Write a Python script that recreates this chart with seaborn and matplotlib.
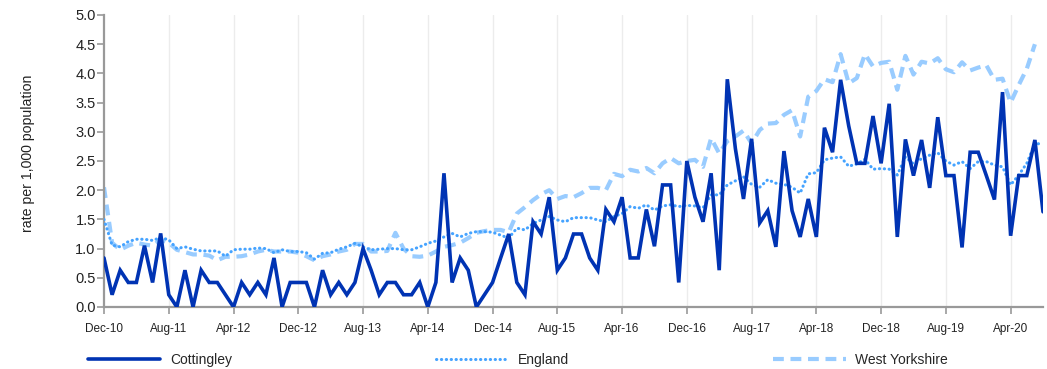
import numpy as np
import pandas as pd
import matplotlib
matplotlib.use("Agg")
import matplotlib.pyplot as plt
import seaborn as sns

# Monthly rates per 1,000 population, Dec-10 to Aug-20
cottingley = [
    0.84, 0.21, 0.63, 0.42, 0.42, 1.05, 0.42, 1.26, 0.21, 0.0,
    0.63, 0.0, 0.63, 0.42, 0.42, 0.21, 0.0, 0.42, 0.21, 0.42,
    0.21, 0.84, 0.0, 0.42, 0.42, 0.42, 0.0, 0.63, 0.21, 0.42,
    0.21, 0.42, 1.0, 0.63, 0.21, 0.42, 0.42, 0.21, 0.21, 0.42,
    0.0, 0.42, 2.29, 0.42, 0.84, 0.63, 0.0, 0.21, 0.42, 0.84,
    1.25, 0.42, 0.21, 1.46, 1.25, 1.88, 0.63, 0.84, 1.25, 1.25,
    0.84, 0.63, 1.67, 1.46, 1.88, 0.84, 0.84, 1.67, 1.04, 2.09,
    2.09, 0.42, 2.5, 1.88, 1.46, 2.29, 0.63, 3.9, 2.71, 1.85,
    2.88, 1.44, 1.65, 1.03, 2.67, 1.65, 1.2, 1.85, 1.2, 3.07,
    2.65, 3.89, 3.1, 2.46, 2.46, 3.27, 2.46, 3.48, 1.2, 2.87,
    2.25, 2.86, 2.04, 3.25, 2.25, 2.25, 1.02, 2.65, 2.65, 2.25,
    1.84, 3.68, 1.22, 2.25, 2.25, 2.86, 1.63,
]

england = [
    1.5, 1.06, 1.03, 1.12, 1.16, 1.16, 1.14, 1.19, 1.15, 1.0,
    1.03, 0.99, 0.96, 0.96, 0.96, 0.87, 0.98, 0.99, 0.99, 1.01,
    1.0, 0.93, 0.98, 0.95, 0.95, 0.93, 0.82, 0.92, 0.93, 0.99,
    1.03, 1.09, 1.03, 0.98, 0.99, 1.0, 1.0, 0.98, 0.98, 1.03,
    1.09, 1.13, 1.2, 1.26, 1.2, 1.26, 1.29, 1.29, 1.28, 1.23,
    1.18, 1.35, 1.32, 1.43, 1.49, 1.55, 1.49, 1.46, 1.53, 1.53,
    1.53, 1.49, 1.46, 1.55, 1.6, 1.72, 1.69, 1.75, 1.66, 1.73,
    1.75, 1.72, 1.74, 1.73, 1.7, 1.92, 1.92, 2.09, 2.16, 2.23,
    2.1, 2.05, 2.18, 2.12, 2.1, 2.05, 1.95, 2.28, 2.3, 2.52,
    2.55, 2.57, 2.41, 2.45, 2.53, 2.36, 2.37, 2.36, 2.26, 2.57,
    2.45, 2.54, 2.6, 2.64, 2.5, 2.43, 2.49, 2.37, 2.49, 2.49,
    2.43, 2.4, 2.09, 2.26, 2.46, 2.8, 2.79,
]

west_yorkshire = [
    2.05, 1.1, 0.98, 1.05, 1.1, 1.07, 1.05, 1.15, 1.1, 0.98,
    0.94, 0.9, 0.9, 0.88, 0.8, 0.86, 0.86, 0.87, 0.9, 0.95,
    0.98, 0.95, 0.95, 0.95, 0.93, 0.87, 0.8, 0.87, 0.9, 0.95,
    0.98, 1.08, 1.08, 0.95, 0.95, 0.96, 1.27, 1.0, 0.87, 0.86,
    0.88, 0.95, 1.03, 1.06, 1.1, 1.18, 1.27, 1.3, 1.32, 1.32,
    1.28, 1.6, 1.71, 1.83, 1.93, 2.0, 1.85, 1.9, 1.88, 1.95,
    2.04, 2.04, 2.0, 2.28, 2.24, 2.35, 2.32, 2.38, 2.29, 2.46,
    2.55, 2.46, 2.5, 2.52, 2.4, 2.89, 2.63, 2.84, 2.92, 3.02,
    2.8, 3.03, 3.14, 3.15, 3.29, 3.37, 2.92, 3.6, 3.7, 3.9,
    3.85, 4.33, 3.83, 3.92, 4.33, 4.12, 4.18, 4.2, 3.72, 4.3,
    3.98, 4.2, 4.17, 4.26, 4.07, 4.02, 4.19, 4.05, 4.1, 4.14,
    3.89, 3.91, 3.5, 3.8, 4.08, 4.5, np.nan,
]

tick_labels = ["Dec-10", "Aug-11", "Apr-12", "Dec-12", "Aug-13", "Apr-14",
               "Dec-14", "Aug-15", "Apr-16", "Dec-16", "Aug-17", "Apr-18",
               "Dec-18", "Aug-19", "Apr-20"]
tick_step = 8  # months between labelled ticks

series_names = ["Cottingley", "England", "West Yorkshire"]

month = np.arange(len(cottingley))
df = pd.DataFrame({"month": month,
                   "Cottingley": cottingley,
                   "England": england,
                   "West Yorkshire": west_yorkshire})

sns.set_theme(style="white")
plt.rcParams["font.family"] = ["Liberation Sans", "DejaVu Sans"]

W, H = 1047, 369
fig = plt.figure(figsize=(W / 100, H / 100), dpi=100)
ax = fig.add_axes([104 / W, 62 / H, (1043 - 104) / W, 292 / H])

styles = {
    "Cottingley": dict(color="#0033b3", linewidth=2.6, linestyle="-",
                       zorder=4, solid_joinstyle="miter"),
    "England": dict(color="#45a3ff", linewidth=2.2,
                    linestyle=(0, (0.1, 1.5)), dash_capstyle="round", zorder=3),
    "West Yorkshire": dict(color="#99ccff", linewidth=3.0,
                           linestyle=(0, (2.6, 1.6)), zorder=2),
}

for name in ["West Yorkshire", "England", "Cottingley"]:
    sub = df[["month", name]].dropna()
    sns.lineplot(data=sub, x="month", y=name, ax=ax, label=name,
                 errorbar=None, **styles[name])

ax.set_xlim(0, len(cottingley) - 1)
ax.set_ylim(0, 5)

tick_pos = np.arange(len(tick_labels)) * tick_step
ax.set_xticks(tick_pos)
ax.set_xticklabels(tick_labels)
ax.set_yticks(np.arange(0, 5.01, 0.5))
ax.set_yticklabels([f"{v:.1f}" for v in np.arange(0, 5.01, 0.5)])

for p in tick_pos[1:]:
    ax.axvline(p, color="#ececec", linewidth=1.0, zorder=0)

for side in ["top", "right"]:
    ax.spines[side].set_visible(False)
for side in ["left", "bottom"]:
    ax.spines[side].set_color("#999999")
    ax.spines[side].set_linewidth(1.6)

ax.tick_params(axis="y", length=5, width=1.2, color="#999999",
               labelsize=10.5, labelcolor="#222222", pad=1, left=True)
ax.tick_params(axis="x", length=5, width=1.2, color="#999999",
               labelsize=8.5, labelcolor="#222222", pad=6.5, bottom=True)

ax.set_xlabel("")
ax.set_ylabel("rate per 1,000 population", fontsize=10.2, color="#222222")
ax.yaxis.set_label_coords(-0.0735, 0.526)

handles, labels = ax.get_legend_handles_labels()
order = [labels.index(n) for n in series_names]
if ax.get_legend():
    ax.get_legend().remove()
fig.legend([handles[i] for i in order], [labels[i] for i in order],
           loc="lower left", bbox_to_anchor=(88 / W, 0.005), ncol=3,
           frameon=False, fontsize=10, handlelength=5.2, handletextpad=0.7,
           columnspacing=14.7, borderpad=0, borderaxespad=0)

fig.savefig("out.png", dpi=100)
